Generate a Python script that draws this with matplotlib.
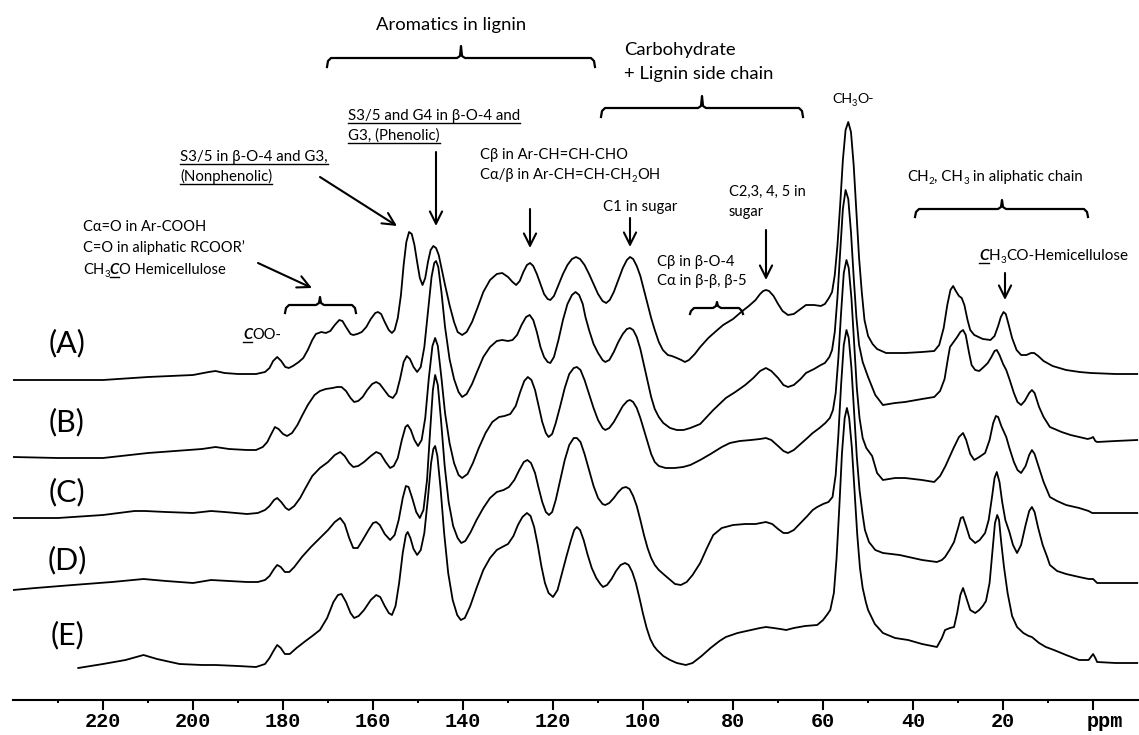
import matplotlib
matplotlib.use("Agg")
import matplotlib.pyplot as plt
import matplotlib.transforms as mtransforms
from matplotlib.lines import Line2D

W, H = 1139, 735
FONT = ['Lato', 'DejaVu Sans']

# ---------------- data: (ppm, intensity above the trace's own baseline) -------------
spec_A = [(240, 0), (230, 0), (220, 0), (210, 3), (205, 4), (200, 5), (196.5, 8), (195, 9), (193, 7),
          (190, 6), (186, 6), (184, 8), (183, 12), (182.2, 19), (181.3, 23), (180.4, 19), (179.5, 13),
          (178.7, 12), (177.8, 14), (176.5, 18), (175.5, 22), (174.5, 30), (173.5, 40), (172.7, 46),
          (171.5, 48), (170.5, 47), (169.5, 49), (168.5, 55), (167.5, 60), (166.8, 59), (166, 53),
          (165, 46), (164.4, 45), (163.5, 46), (162.5, 48), (161.5, 53), (160.5, 61), (159.5, 67),
          (158.9, 68), (158.2, 66), (157.4, 58), (156.5, 50), (155.8, 47), (155.2, 50), (154.5, 62),
          (153.8, 85), (153.2, 115), (152.6, 138), (152.0, 148), (151.4, 146), (150.8, 135),
          (150.2, 118), (149.6, 102), (149.0, 95), (148.4, 102), (147.8, 118), (147.2, 130),
          (146.6, 134), (146.0, 132), (145.4, 125), (144.8, 112), (144.0, 95), (143.0, 75),
          (142.0, 58), (141.2, 48), (140.2, 45), (139.2, 48), (138.0, 58), (136.8, 72), (135.5, 88),
          (134.0, 100), (132.5, 106), (131.3, 107), (130.0, 103), (129.0, 98), (128.2, 95),
          (127.4, 99), (126.6, 108), (125.8, 115), (125.1, 117), (124.4, 114), (123.6, 106),
          (122.8, 96), (122.0, 86), (121.2, 81), (120.6, 80), (119.8, 84), (118.8, 95), (117.8, 106),
          (116.8, 115), (115.8, 121), (114.9, 123), (114.0, 121), (113.0, 115), (112.0, 106),
          (111.0, 96), (110.0, 86), (109.0, 79), (108.2, 77), (107.4, 80), (106.5, 88), (105.5, 100),
          (104.5, 112), (103.6, 120), (102.9, 123), (102.2, 121), (101.4, 114), (100.6, 104),
          (99.8, 90), (99.0, 76), (98.2, 62), (97.4, 50), (96.5, 38), (95.6, 30), (94.5, 25),
          (93.6, 24), (92.5, 22), (91.5, 20), (90.7, 18), (89.8, 20), (88.5, 26), (87.3, 33),
          (85.5, 42), (83.5, 50), (82.2, 55), (80.0, 61), (78.2, 68), (76.5, 74), (75.0, 80),
          (74.0, 86), (73.3, 89), (72.7, 90), (72.0, 89), (71.0, 84), (70.0, 76), (69.0, 69),
          (67.8, 65), (66.5, 66), (65.0, 71), (63.8, 75), (62.0, 75), (60.5, 74), (59.6, 76),
          (58.7, 82), (58.0, 88), (57.4, 105), (56.8, 135), (56.2, 175), (55.6, 220), (55.0, 250),
          (54.4, 258), (53.8, 248), (53.2, 215), (52.6, 168), (52.0, 122), (51.4, 88), (50.8, 60),
          (50.0, 44), (49.0, 36), (48.0, 31), (46.0, 27), (44.0, 27), (41.8, 27), (38.0, 28),
          (35.3, 29), (34.2, 35), (33.2, 52), (32.4, 75), (31.7, 90), (31.1, 94), (30.5, 89),
          (29.8, 84), (29.2, 82), (28.6, 75), (27.9, 60), (27.3, 50), (26.4, 45), (24.5, 41),
          (22.8, 40), (21.9, 44), (21.1, 54), (20.5, 63), (19.9, 68), (19.4, 66), (18.8, 56),
          (18.0, 42), (17.0, 30), (16.0, 25), (14.8, 25), (13.8, 27), (13.1, 27), (12.2, 24),
          (11.0, 19), (9.0, 14), (6.0, 10), (3.0, 8), (0.5, 7), (-5, 6), (-9.8, 6)]

spec_B = [(240, 0), (230, -1), (220, -1), (210, 4), (204, 6), (198, 8), (195, 10), (192, 8),
          (188, 7), (186, 7), (184.5, 10), (183.5, 15), (182.5, 24), (181.8, 30), (181.0, 28),
          (180.0, 23), (179.1, 21), (178.0, 24), (176.8, 32), (175.8, 41), (174.5, 52), (173.0, 62),
          (171.8, 66), (170.5, 68), (169.0, 69), (168.0, 70), (167.0, 70), (166.0, 66), (165.0, 59),
          (164.2, 55), (163.3, 56), (162.3, 60), (161.3, 67), (160.2, 73), (159.3, 75), (158.5, 73),
          (157.5, 67), (156.5, 61), (155.6, 59), (154.8, 64), (154.0, 78), (153.2, 95), (152.5, 101),
          (151.8, 98), (151.0, 90), (150.2, 85), (149.4, 90), (148.6, 110), (147.8, 145),
          (147.0, 180), (146.4, 194), (146.0, 196), (145.5, 190), (144.8, 165), (144.0, 130),
          (143.0, 98), (142.0, 78), (141.0, 65), (140.2, 60), (139.2, 63), (138.0, 73), (137.0, 84),
          (135.5, 100), (134.0, 110), (132.5, 116), (131.3, 117), (130.0, 116), (129.0, 117),
          (128.0, 122), (127.0, 132), (126.0, 140), (125.2, 142), (124.4, 137), (123.6, 125),
          (122.8, 110), (122.0, 100), (121.2, 95), (120.6, 94), (119.8, 100), (118.8, 117),
          (117.8, 137), (116.8, 153), (115.8, 162), (115.0, 165), (114.2, 162), (113.4, 153),
          (112.8, 140), (112.0, 127), (111.0, 113), (110.0, 104), (109.0, 97), (108.4, 95),
          (107.5, 97), (106.5, 105), (105.5, 115), (104.5, 123), (103.6, 128), (102.9, 129),
          (102.2, 127), (101.4, 120), (100.6, 108), (99.8, 92), (99.0, 76), (98.2, 60), (97.4, 48),
          (96.5, 40), (95.5, 34), (94.0, 29), (92.5, 27), (91.0, 27), (89.5, 29), (87.3, 33),
          (84.4, 47), (81.6, 59), (79.5, 65), (77.3, 72), (75.5, 79), (74.0, 86), (72.7, 89),
          (71.5, 86), (70.0, 79), (68.8, 72), (67.8, 70), (66.5, 72), (65.0, 78), (63.8, 84),
          (62.0, 88), (60.5, 92), (59.6, 94), (58.6, 100), (58.0, 107), (57.4, 125), (56.8, 160),
          (56.2, 205), (55.6, 248), (55.0, 267), (54.4, 258), (53.8, 225), (53.2, 180), (52.6, 140),
          (52.0, 112), (51.2, 95), (50.0, 80), (48.4, 62), (46.7, 52), (44.0, 54), (41.8, 55),
          (38.0, 58), (35.3, 60), (34.0, 66), (33.0, 78), (32.2, 100), (31.8, 110), (31.0, 115),
          (30.2, 120), (29.5, 125), (28.9, 127), (28.3, 122), (27.6, 105), (27.0, 92), (26.2, 87),
          (25.3, 86), (24.3, 90), (23.4, 94), (22.6, 100), (21.9, 106), (21.4, 107), (20.8, 102),
          (20.0, 93), (19.3, 87), (18.6, 78), (17.6, 64), (16.8, 55), (16.0, 52), (15.2, 56),
          (14.2, 64), (13.6, 67), (13.0, 64), (12.0, 50), (11.0, 40), (9.6, 30), (7.0, 25),
          (5.0, 22), (3.1, 20), (1.2, 18), (0.4, 19), (0.0, 20), (-0.5, 16), (-0.9, 15), (-5, 16),
          (-9.8, 17)]

spec_C = [(240, 0), (230, 0), (220, 3), (213, 7), (210.7, 7), (206, 6), (200, 5), (196, 7), (193, 6),
          (188, 4), (185.6, 5), (184, 8), (183, 12), (182, 18), (181.3, 20), (180.4, 16), (179.4, 10),
          (178.7, 8), (177.5, 12), (176.2, 20), (175.0, 30), (173.5, 42), (171.8, 50), (170.0, 56),
          (168.5, 63), (167.3, 66), (166.3, 62), (165.3, 55), (164.4, 51), (163.3, 52), (162.0, 56),
          (160.5, 62), (159.3, 66), (158.3, 64), (157.2, 56), (156.2, 50), (155.4, 52), (154.5, 60),
          (153.6, 78), (152.8, 91), (152.3, 93), (151.6, 88), (150.8, 78), (150.0, 72), (149.2, 78),
          (148.4, 100), (147.6, 140), (146.8, 172), (146.2, 180), (145.6, 172), (144.8, 140),
          (144.0, 105), (143.0, 75), (142.0, 55), (141.0, 43), (140.2, 40), (139.0, 44), (137.8, 55),
          (136.5, 70), (135.0, 85), (133.5, 96), (132.0, 101), (130.8, 102), (129.5, 104),
          (128.3, 112), (127.3, 126), (126.4, 137), (125.6, 141), (124.8, 138), (124.0, 128),
          (123.2, 112), (122.4, 96), (121.6, 85), (121.0, 81), (120.2, 84), (119.4, 95), (118.4, 112),
          (117.4, 130), (116.4, 144), (115.4, 150), (114.7, 151), (113.9, 148), (113.0, 138),
          (112.0, 124), (111.0, 110), (110.0, 98), (109.0, 90), (108.4, 88), (107.5, 90), (106.5, 96),
          (105.5, 104), (104.5, 112), (103.5, 117), (102.9, 118), (102.2, 116), (101.4, 110),
          (100.6, 100), (99.8, 88), (99.0, 76), (98.2, 64), (97.4, 56), (96.5, 52), (95.0, 50),
          (93.0, 50), (91.1, 51), (89.5, 53), (87.3, 58), (85.0, 64), (82.5, 71), (80.7, 75),
          (78.5, 77), (76.0, 78), (74.0, 79), (72.7, 80), (71.5, 78), (70.0, 72), (68.8, 67),
          (67.8, 65), (66.5, 68), (65.0, 74), (63.5, 80), (62.3, 85), (60.8, 90), (59.5, 95),
          (58.5, 100), (57.8, 108), (57.2, 125), (56.6, 160), (56.0, 205), (55.4, 245), (54.8, 258),
          (54.3, 250), (53.7, 220), (53.1, 175), (52.5, 130), (51.9, 100), (51.2, 80), (50.4, 70),
          (49.1, 62), (48.0, 45), (46.7, 38), (44.0, 40), (41.8, 40), (38.0, 38), (35.3, 36),
          (34.0, 42), (32.8, 52), (32.2, 58), (31.0, 70), (29.8, 81), (28.9, 85), (28.2, 78),
          (27.3, 64), (26.4, 58), (25.3, 61), (24.0, 65), (23.0, 78), (22.2, 95), (21.6, 102),
          (21.1, 101), (20.4, 92), (19.3, 81), (18.6, 70), (17.6, 56), (16.8, 48), (16.0, 45),
          (15.0, 52), (14.2, 63), (13.6, 68), (13.0, 64), (12.0, 50), (11.0, 36), (9.6, 21),
          (8.0, 17), (6.0, 13), (3.1, 10), (1.0, 7), (0.2, 5), (-5, 5), (-9.8, 5)]

spec_D = [(240, 0), (235, 2), (226.7, 5), (218, 8), (211, 11), (206, 9), (200, 7), (196, 10), (192, 9),
          (188, 8), (185.6, 8), (184, 10), (183, 14), (182, 21), (181.3, 25), (180.5, 23), (179.6, 18),
          (178.6, 18), (177.5, 23), (175.8, 33), (173.8, 43), (171.8, 52), (170.0, 60), (168.5, 68),
          (167.3, 72), (166.3, 66), (165.3, 52), (164.4, 42), (163.4, 42), (162.3, 50), (161.0, 60),
          (160.0, 67), (159.3, 68), (158.5, 65), (157.4, 56), (156.2, 50), (155.2, 55), (154.3, 70),
          (153.4, 92), (152.7, 104), (152.1, 103), (151.3, 92), (150.4, 78), (149.6, 72), (148.8, 80),
          (148.0, 110), (147.3, 160), (146.7, 200), (146.2, 215), (145.6, 205), (144.9, 170),
          (144.1, 125), (143.2, 88), (142.2, 64), (141.2, 52), (140.4, 47), (139.5, 49), (138.3, 58),
          (137.0, 70), (135.5, 82), (134.0, 92), (132.5, 98), (131.0, 100), (129.8, 103), (128.6, 110),
          (127.5, 120), (126.5, 128), (125.7, 130), (124.9, 127), (124.0, 117), (123.2, 102),
          (122.4, 88), (121.6, 78), (120.9, 75), (120.2, 78), (119.4, 90), (118.4, 110), (117.4, 130),
          (116.4, 145), (115.4, 152), (114.7, 152), (113.9, 148), (113.0, 136), (112.0, 120),
          (111.0, 104), (110.0, 92), (109.0, 86), (108.4, 85), (107.5, 87), (106.5, 92), (105.5, 98),
          (104.6, 102), (103.8, 103), (103.0, 101), (102.2, 94), (101.4, 84), (100.6, 70), (99.8, 55),
          (99.0, 42), (98.2, 32), (97.4, 25), (96.5, 20), (95.5, 16), (94.2, 11), (92.9, 6),
          (91.6, 5), (90.3, 8), (89.0, 15), (87.3, 27), (85.8, 42), (84.4, 55), (82.5, 62), (80.0, 65),
          (77.3, 66), (75.0, 66), (72.7, 68), (71.3, 66), (70.0, 61), (68.8, 57), (67.8, 57),
          (66.5, 60), (65.0, 67), (63.5, 74), (62.3, 80), (61.3, 83), (60.0, 86), (58.8, 88),
          (57.9, 93), (57.2, 115), (56.6, 155), (56.0, 205), (55.4, 245), (54.8, 260), (54.3, 252),
          (53.7, 222), (53.1, 178), (52.5, 133), (51.9, 100), (51.2, 75), (50.7, 60), (49.8, 48),
          (48.4, 40), (46.7, 37), (43.0, 35), (38.0, 30), (34.7, 28), (33.6, 30), (32.9, 33),
          (31.9, 40), (30.9, 48), (30.0, 62), (29.4, 72), (28.9, 73), (28.3, 65), (27.4, 52),
          (26.2, 47), (25.2, 50), (24.0, 57), (23.2, 70), (22.4, 95), (21.9, 112), (21.4, 118),
          (20.8, 108), (20.2, 88), (19.5, 70), (18.6, 58), (17.8, 45), (16.9, 37), (16.0, 45),
          (15.0, 65), (14.2, 79), (13.6, 83), (13.0, 78), (12.2, 62), (11.2, 45), (10.2, 33),
          (9.6, 25), (8.0, 19), (6.0, 16), (3.1, 13), (1.0, 11), (0.0, 11), (-0.9, 7), (-5, 7),
          (-9.8, 7)]

spec_E = [(225.5, 0), (220, 4), (215, 8), (211, 13), (208, 9), (203, 4), (198, 3), (195, 3), (190, 2),
          (186, 1), (184, 4), (183, 10), (182, 18), (181.3, 23), (180.5, 20), (179.6, 14), (178.5, 14),
          (177.0, 20), (175.0, 27), (173.5, 32), (171.8, 38), (170.2, 50), (168.8, 66), (167.8, 73),
          (167.0, 74), (166.0, 66), (165.0, 55), (164.2, 50), (163.2, 52), (162.0, 58), (160.5, 68),
          (159.3, 73), (158.4, 71), (157.4, 62), (156.5, 55), (155.8, 53), (155.0, 62), (154.2, 85),
          (153.4, 115), (152.7, 133), (152.3, 136), (151.7, 130), (151.0, 119), (150.2, 113),
          (149.4, 118), (148.6, 135), (147.8, 170), (147.1, 205), (146.6, 219), (146.2, 222),
          (145.7, 212), (145.0, 180), (144.2, 135), (143.3, 95), (142.3, 68), (141.3, 53), (140.5, 48),
          (139.6, 50), (138.4, 62), (137.0, 80), (135.5, 98), (134.0, 110), (132.5, 118), (131.3, 121),
          (130.0, 124), (128.8, 132), (127.8, 143), (126.8, 151), (125.8, 155), (125.0, 152),
          (124.2, 141), (123.4, 123), (122.6, 102), (121.8, 85), (121.0, 75), (120.0, 71), (119.0, 78),
          (118.0, 95), (117.0, 112), (116.0, 128), (115.3, 138), (114.7, 141), (114.0, 138),
          (113.2, 128), (112.3, 113), (111.4, 100), (110.4, 90), (109.5, 84), (108.9, 81), (108.0, 83),
          (107.0, 89), (106.0, 97), (105.0, 103), (104.0, 105), (103.2, 103), (102.4, 96), (101.6, 85),
          (100.8, 70), (100.0, 54), (99.2, 40), (98.4, 29), (97.6, 22), (96.9, 18), (95.5, 12),
          (94.0, 8), (92.5, 5), (90.5, 3), (89.0, 5), (87.0, 12), (85.0, 20), (83.0, 27), (81.6, 31),
          (79.0, 35), (76.0, 38), (74.0, 40), (72.7, 41), (71.0, 40), (69.5, 39), (68.2, 38),
          (66.5, 40), (64.0, 42), (61.3, 43), (60.0, 48), (59.0, 54), (58.4, 58), (57.6, 75),
          (57.0, 110), (56.4, 160), (55.8, 215), (55.2, 250), (54.7, 260), (54.2, 250), (53.6, 220),
          (53.0, 176), (52.4, 133), (51.8, 100), (51.2, 80), (50.5, 66), (50.0, 58), (48.5, 44),
          (46.7, 35), (44.0, 30), (41.1, 28), (38.0, 24), (34.7, 21), (33.6, 30), (32.9, 38),
          (31.8, 40), (30.9, 41), (30.2, 55), (29.5, 73), (28.9, 80), (28.3, 72), (27.3, 58),
          (26.2, 55), (25.3, 58), (24.5, 62), (23.8, 67), (23.0, 85), (22.3, 120), (21.8, 145),
          (21.3, 153), (20.9, 148), (20.4, 125), (19.8, 101), (19.0, 75), (18.0, 52), (16.9, 41),
          (15.5, 35), (14.3, 32), (13.6, 31), (12.0, 25), (10.5, 21), (8.7, 18), (6.0, 13), (3.1, 8),
          (1.0, 8), (0.5, 11), (0.0, 14), (-0.5, 10), (-0.9, 6), (-5, 5), (-9.8, 5)]

trace_names = ['(A)', '(B)', '(C)', '(D)', '(E)']
tick_values = [220, 200, 180, 160, 140, 120, 100, 80, 60, 40, 20, 0]
tick_labels = ['220', '200', '180', '160', '140', '120', '100', '80', '60', '40', '20', 'ppm']

# ---------------- layout ----------------
spectra = [spec_A, spec_B, spec_C, spec_D, spec_E]
baselines = [380, 457, 518, 590, 668]          # vertical stacking offsets (pixel rows)
label_y = [343, 422, 492, 560, 635]

fig = plt.figure(figsize=(W / 100, H / 100), dpi=100)
ax = fig.add_axes([13 / W, 35 / H, 1 - 13 / W, 700 / H])
ax.set_xlim(240, -10.2)
ax.set_ylim(700, 0)

for spec, b in zip(spectra, baselines):
    xs = [p for p, _ in spec]
    ys = [b - v for _, v in spec]
    ax.plot(xs, ys, color='black', lw=1.3, solid_joinstyle='round')

for s in ['top', 'left', 'right']:
    ax.spines[s].set_visible(False)
ax.spines['bottom'].set_linewidth(1.5)
ax.set_yticks([])
ax.set_xticks(tick_values)
ax.set_xticks(list(range(230, -10, -10)), minor=True)
ax.set_xticklabels(tick_labels, fontdict=dict(family='Liberation Mono', weight='bold', size=14.5))
ax.tick_params(axis='x', which='major', direction='out', length=7.5, width=1.5, pad=1)
ax.tick_params(axis='x', which='minor', direction='out', length=2.5, width=1.4)
# the unit label sits just right of the 0 tick
ppm_lab = ax.get_xticklabels()[-1]
ppm_lab.set_ha('left')
ppm_lab.set_transform(ppm_lab.get_transform() + mtransforms.ScaledTranslation(-6 / 100, 0, fig.dpi_scale_trans))

renderer = fig.canvas.get_renderer()


def fxy(x, y):
    return x / W, 1 - y / H


def seq_text(x, y, parts, size):
    """place pieces of text one after another; y = baseline in image pixels"""
    cur = x
    for part in parts:
        s = part[0]
        opt = part[1] if len(part) > 1 else {}
        kw = dict(fontsize=size, family=FONT, va='baseline', ha='left')
        dy = 0
        if opt.get('sub'):
            kw['fontsize'] = size * 0.65
            dy = 3
        if opt.get('bi'):
            kw['weight'] = 'bold'
            kw['style'] = 'italic'
        t = fig.text(*fxy(cur, y + dy), s, **kw)
        bb = t.get_window_extent(renderer)
        if opt.get('ul'):
            fig.add_artist(Line2D([bb.x0 / W, bb.x1 / W], [(H - y - 3) / H] * 2, color='black', lw=1.0))
        cur = bb.x1
    return cur


def underline_text(x, y, s, size):
    t = fig.text(*fxy(x, y), s, fontsize=size, family=FONT, va='baseline', ha='left')
    bb = t.get_window_extent(renderer)
    fig.add_artist(Line2D([bb.x0 / W, bb.x1 / W], [(H - y - 3) / H] * 2, color='black', lw=1.0))


def brace(x0, x1, y, xm, up=12, drop=9):
    xs = [x0, x0 + 1, x0 + 4, xm - 4, xm - 1, xm, xm + 1, xm + 4, x1 - 4, x1 - 1, x1]
    ys = [y + drop, y + 3, y, y, y - 2, y - up, y - 2, y, y, y + 3, y + drop]
    fig.add_artist(Line2D([a / W for a in xs], [1 - b / H for b in ys], color='black', lw=1.6,
                          solid_joinstyle='round'))


def arrow(x0, y0, x1, y1):
    ax.annotate('', xy=(x1, H - y1), xycoords='figure pixels', xytext=(x0, H - y0),
                textcoords='figure pixels',
                arrowprops=dict(arrowstyle='->', lw=1.5, color='black', mutation_scale=22,
                                shrinkA=0, shrinkB=0))


# trace labels
for name, ly in zip(trace_names, label_y):
    fig.text(*fxy(67, ly), name, fontsize=22, family=FONT, ha='center', va='center')

# headings
fig.text(*fxy(451, 25), 'Aromatics in lignin', fontsize=13.3, family=FONT, ha='center', va='center')
brace(327, 595, 58, 461)
fig.text(*fxy(624, 50), 'Carbohydrate', fontsize=13.3, family=FONT, ha='left', va='center')
fig.text(*fxy(624, 74), '+ Lignin side chain', fontsize=13.3, family=FONT, ha='left', va='center')
brace(601, 803, 108, 702)
seq_text(832, 103, [('CH',), ('3', {'sub': True}), ('O-',)], 10.3)

underline_text(348, 120, 'S3/5 and G4 in β-O-4 and', 10.8)
underline_text(348, 140, 'G3, (Phenolic)', 10.8)
arrow(436, 152, 436, 226)
underline_text(180, 161, 'S3/5 in β-O-4 and G3,', 10.8)
underline_text(180, 181, '(Nonphenolic)', 10.8)
arrow(320, 177, 397, 226)

seq_text(480, 159, [('Cβ in Ar-CH=CH-CHO',)], 10.6)
seq_text(480, 179, [('Cα/β in Ar-CH=CH-CH',), ('2', {'sub': True}), ('OH',)], 10.6)
arrow(530, 209, 530, 248)

fig.text(*fxy(640, 207), 'C1 in sugar', fontsize=10.8, family=FONT, ha='center', va='center')
arrow(630, 218, 630, 247)
fig.text(*fxy(729, 192), 'C2,3, 4, 5 in', fontsize=10.5, family=FONT, ha='left', va='center')
fig.text(*fxy(729, 212), 'sugar', fontsize=10.5, family=FONT, ha='left', va='center')
arrow(766, 230, 766, 280)

fig.text(*fxy(657, 262), 'Cβ in β-O-4', fontsize=10.7, family=FONT, ha='left', va='center')
fig.text(*fxy(657, 281), 'Cα in β-β, β-5', fontsize=10.7, family=FONT, ha='left', va='center')
brace(690, 743, 308, 717, up=6, drop=6)

seq_text(907, 181, [('CH',), ('2', {'sub': True}), (', CH',), ('3', {'sub': True}),
                    (' in aliphatic chain',)], 10.8)
brace(915, 1088, 209, 1002, up=9, drop=8)
seq_text(979, 260, [('C', {'bi': True, 'ul': True}), ('H',), ('3', {'sub': True}),
                    ('CO-Hemicellulose',)], 11)
arrow(1005, 273, 1005, 300)

fig.text(*fxy(83, 227), 'Cα=O in Ar-COOH', fontsize=10.5, family=FONT, ha='left', va='center')
fig.text(*fxy(83, 248), 'C=O in aliphatic RCOOR’', fontsize=10.5, family=FONT, ha='left', va='center')
seq_text(83, 274, [('CH',), ('3', {'sub': True}), ('C', {'bi': True, 'ul': True}), ('O Hemicellulose',)], 10.6)
arrow(258, 263, 312, 288)
brace(285, 356, 305, 320, up=8, drop=8)
seq_text(243, 339, [('C', {'bi': True, 'ul': True}), ('OO-',)], 10.5)

fig.savefig('out.png', dpi=100)
